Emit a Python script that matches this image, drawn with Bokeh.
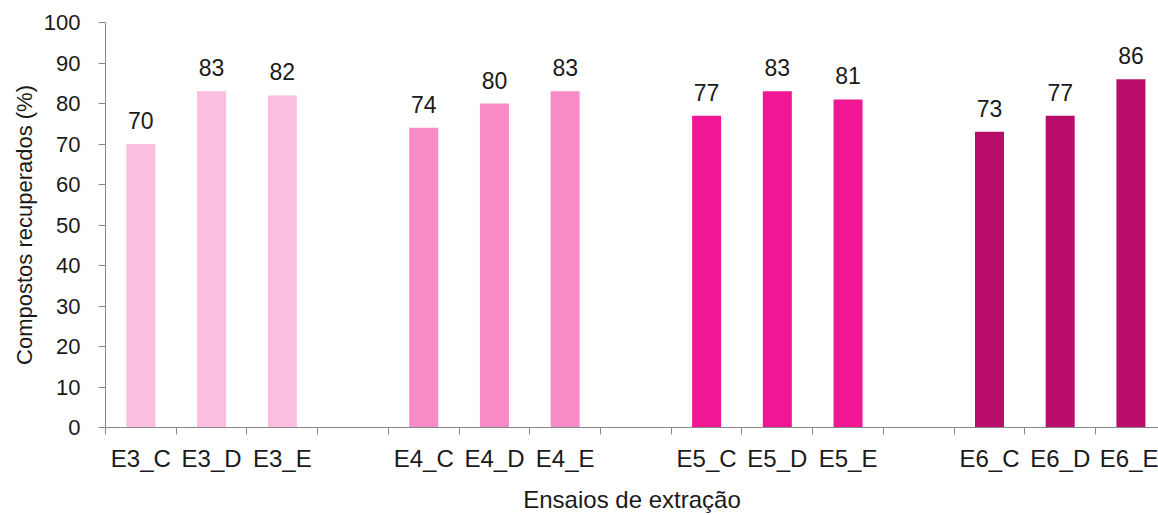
from bokeh.plotting import figure
from bokeh.models import ColumnDataSource, FixedTicker, Range1d, LabelSet
from bokeh.core.properties import value
from bokeh.embed import file_html
from bokeh.resources import INLINE

# Extraction trials and recovered compounds (%)
categories = ["E3_C", "E3_D", "E3_E",
              "E4_C", "E4_D", "E4_E",
              "E5_C", "E5_D", "E5_E",
              "E6_C", "E6_D", "E6_E"]
values = [70, 83, 82,
          74, 80, 83,
          77, 83, 81,
          73, 77, 86]
group_colors = ["#FBBDE0", "#F78AC7", "#F01694", "#B90D6B"]
y_ticks = [0, 10, 20, 30, 40, 50, 60, 70, 80, 90, 100]

FONT = "Liberation Sans"
AXIS_GRAY = "#888888"
TEXT = "#1a1a1a"

# Each group of three bars is followed by one empty slot
slots = []
colors = []
for i, _ in enumerate(categories):
    g = i // 3
    slots.append(g * 4 + (i % 3))
    colors.append(group_colors[g])
centers = [s + 0.5 for s in slots]
boundaries = list(range(0, 16))

src = ColumnDataSource(dict(
    x=centers,
    top=values,
    color=colors,
    label=[str(v) for v in values],
))

p = figure(width=1158, height=515,
           output_backend="svg", toolbar_location=None,
           x_range=Range1d(0, 14.89), y_range=Range1d(0, 100),
           min_border_left=105, min_border_right=0,
           min_border_top=22, min_border_bottom=88)
p.outline_line_color = None
p.xgrid.grid_line_color = None
p.ygrid.grid_line_color = None

p.vbar(x="x", top="top", width=0.41, bottom=0, color="color",
       line_color=None, source=src)

labels = LabelSet(x="x", y="top", text="label", source=src,
                  text_align="center", text_baseline="bottom",
                  y_offset=15, text_font=value(FONT),
                  text_font_size="23px", text_color=TEXT)
p.add_layout(labels)

# y axis
p.yaxis.ticker = FixedTicker(ticks=y_ticks)
p.yaxis.axis_line_color = AXIS_GRAY
p.yaxis.major_tick_line_color = AXIS_GRAY
p.yaxis.major_tick_in = 0
p.yaxis.major_tick_out = 7
p.yaxis.minor_tick_line_color = None
p.yaxis.major_label_standoff = 18
p.yaxis.major_label_text_font = FONT
p.yaxis.major_label_text_font_size = "22px"
p.yaxis.major_label_text_color = TEXT
p.yaxis.axis_label = "Compostos recuperados (%)"
p.yaxis.axis_label_text_font = FONT
p.yaxis.axis_label_text_font_size = "22px"
p.yaxis.axis_label_text_font_style = "normal"
p.yaxis.axis_label_text_color = TEXT
p.yaxis.axis_label_standoff = 4

# x axis: category names under bars, tick marks between slots
p.xaxis.ticker = FixedTicker(ticks=centers, minor_ticks=boundaries)
p.xaxis.major_label_overrides = {c: n for c, n in zip(centers, categories)}
p.xaxis.axis_line_color = AXIS_GRAY
p.xaxis.major_tick_line_color = None
p.xaxis.major_tick_in = 0
p.xaxis.major_tick_out = 7
p.xaxis.minor_tick_line_color = AXIS_GRAY
p.xaxis.minor_tick_in = 0
p.xaxis.minor_tick_out = 7
p.xaxis.major_label_standoff = 10
p.xaxis.major_label_text_font = FONT
p.xaxis.major_label_text_font_size = "24px"
p.xaxis.major_label_text_color = TEXT
p.xaxis.axis_label = "Ensaios de extração"
p.xaxis.axis_label_text_font = FONT
p.xaxis.axis_label_text_font_size = "24px"
p.xaxis.axis_label_text_font_style = "normal"
p.xaxis.axis_label_text_color = TEXT
p.xaxis.axis_label_standoff = 11

open("out.html", "w").write(file_html(p, INLINE))
